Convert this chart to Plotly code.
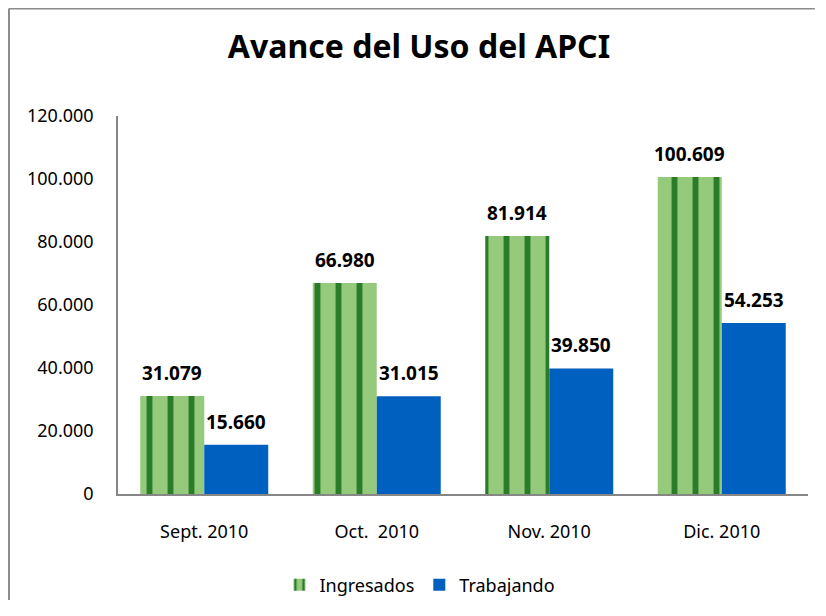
import plotly.graph_objects as go

categories = ["Sept. 2010", "Oct.  2010", "Nov. 2010", "Dic. 2010"]
ingresados = [31079, 66980, 81914, 100609]
trabajando = [15660, 31015, 39850, 54253]
y_ticks = [0, 20000, 40000, 60000, 80000, 100000, 120000]

FONT = "Noto Sans"
W, H = 810, 592  # page body has an 8px margin

fig = go.Figure()
fig.add_trace(go.Bar(
    name="Ingresados", x=categories, y=ingresados,
    marker=dict(color="#95c97b", line=dict(width=0),
                pattern=dict(shape="|", fgcolor="#2a7b2a", fgopacity=1,
                             size=21, solidity=0.28)),
))
fig.add_trace(go.Bar(
    name="Trabajando", x=categories, y=trabajando,
    marker=dict(color="#0060c0", line=dict(width=0)),
))

# value labels above each bar
annotations = []
for series, shift in ((ingresados, -32), (trabajando, 32)):
    for c, v in zip(categories, series):
        annotations.append(dict(
            x=c, y=v, xref="x", yref="y", xshift=shift, yshift=8,
            text="<b>" + f"{v:,}".replace(",", ".") + "</b>",
            showarrow=False, yanchor="bottom", xanchor="center",
            font=dict(family=FONT, size=19, color="black")))

border = dict(color="#8c8c8c", width=2)
fig.update_layout(
    width=W, height=H,
    margin=dict(l=110, r=10, t=108, b=H - 486, autoexpand=False),
    paper_bgcolor="white", plot_bgcolor="white",
    separators=",.",
    font=dict(family=FONT, color="black"),
    barmode="group", bargap=0.258, bargroupgap=0,
    title=dict(text="<b>Avance del Uso del APCI</b>", x=0.5074, xanchor="center",
               y=1 - 39 / H, yanchor="middle", font=dict(family=FONT, size=32, color="black")),
    legend=dict(orientation="h", xref="container", yref="container",
                x=0.5086, xanchor="center", y=1 - 577 / H, yanchor="middle",
                font=dict(family=FONT, size=18, color="black"), traceorder="normal",
                itemwidth=30),
    showlegend=True,
    annotations=annotations,
    shapes=[
        dict(type="line", xref="paper", yref="paper", x0=-0.158, x1=-0.158, y0=-0.4, y1=1 + 107.5 / 378,
             line=border, layer="below"),
        dict(type="line", xref="paper", yref="paper", x0=-0.158, x1=1.01, y0=1 + 107.5 / 378, y1=1 + 107.5 / 378,
             line=border, layer="below"),
    ],
)
fig.update_xaxes(showline=True, linecolor="#868686", linewidth=1.5, showgrid=False,
                 ticks="outside", ticklen=21, tickcolor="rgba(0,0,0,0)",
                 tickfont=dict(family=FONT, size=18, color="black"))
fig.update_yaxes(range=[0, 120000], tickvals=y_ticks, tickformat=",.0f",
                 showline=True, linecolor="#868686", linewidth=1.5, showgrid=False,
                 zeroline=False, ticks="outside", ticklen=19, tickcolor="rgba(0,0,0,0)",
                 tickfont=dict(family=FONT, size=18, color="black"))

fig.write_html("out.html")
